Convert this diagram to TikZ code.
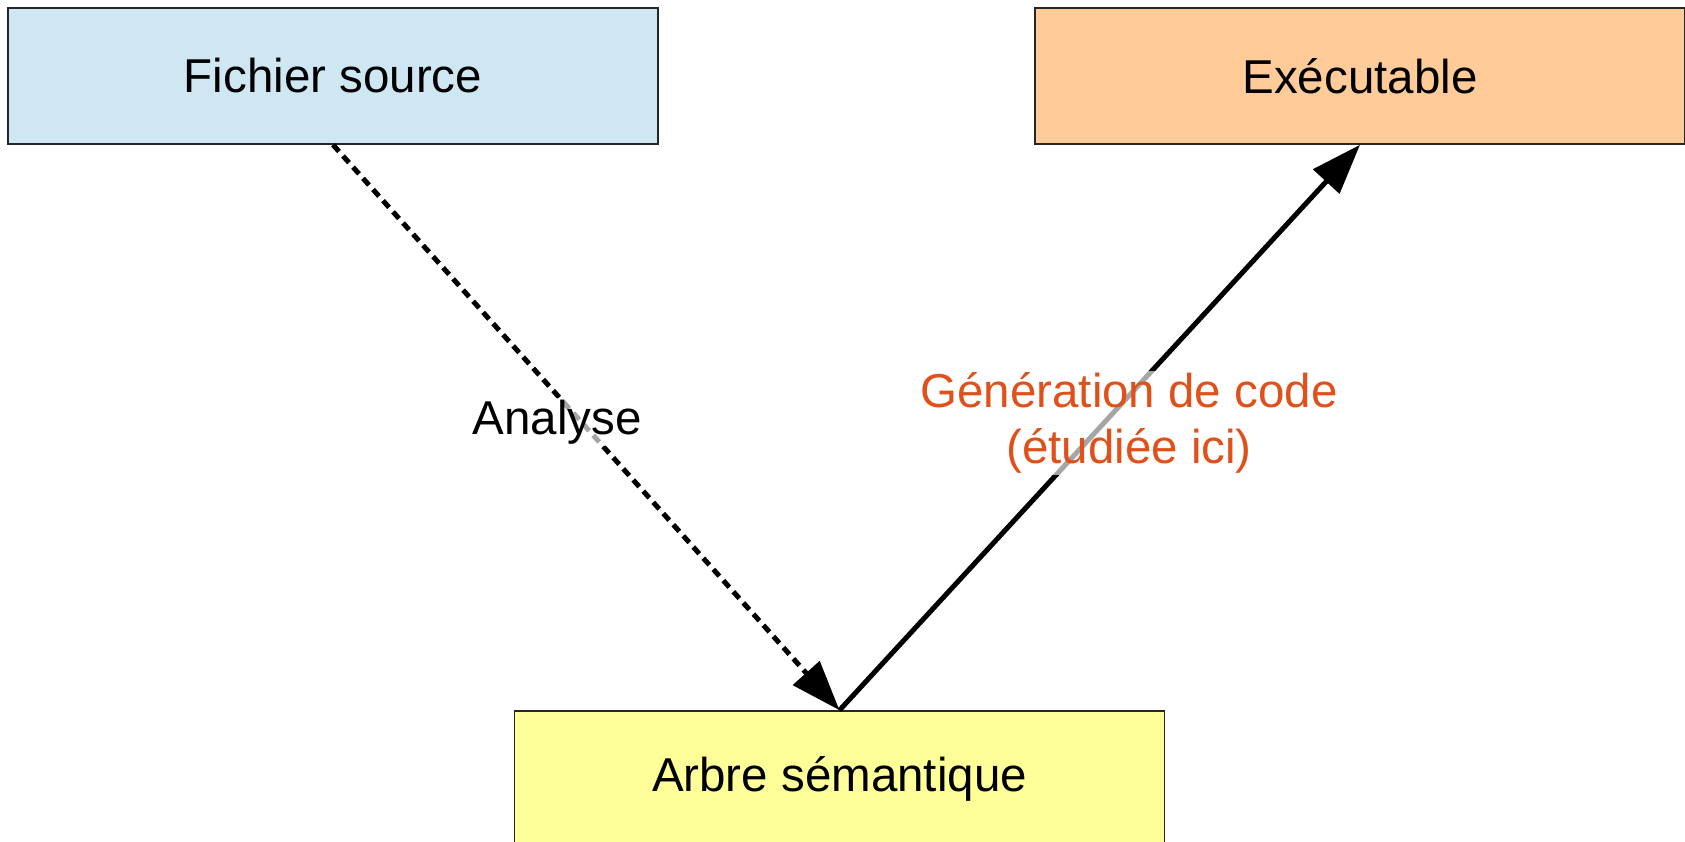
\documentclass[tikz,border=0pt]{standalone}
\usepackage{fontspec}
\setmainfont{Liberation Sans}
\usetikzlibrary{arrows.meta}
\definecolor{srcblue}{RGB}{207,230,243}
\definecolor{exeorange}{RGB}{255,204,153}
\definecolor{treeyellow}{RGB}{255,255,153}
\definecolor{labelred}{RGB}{224,80,26}
\begin{document}
\begin{tikzpicture}[x=1pt,y=-1pt,
  box/.style={draw=black!85, line width=1.6pt, minimum width=650pt, minimum height=136pt, inner sep=0pt, font=\fontsize{47.5}{56}\selectfont},
  conn/.style={line width=5pt, -{Triangle[length=50pt,width=35pt]}},
  lbl/.style={fill=white, fill opacity=0.65, text opacity=1, inner sep=2pt, align=center, font=\fontsize{47.5}{56}\selectfont}]
\useasboundingbox (0,0) rectangle (1685,841);
\begin{scope}
\clip (0,0) rectangle (1685,841);
\node[box, fill=srcblue] (src) at (333,76) {Fichier source};
\node[box, fill=exeorange] (exe) at (1360,76) {Exécutable};
\node[box, fill=treeyellow] (tree) at (839.5,779) {Arbre sémantique};
\draw[conn, dash pattern=on 9pt off 6pt] (src.south) -- (tree.north);
\draw[conn] (tree.north) -- (exe.south);
\node[lbl] (ana) at (557,422) {Analyse};
\node[lbl, text=labelred] (gen) at (1129,423) {Génération de code\\(étudiée ici)};
\end{scope}
\end{tikzpicture}
\end{document}
